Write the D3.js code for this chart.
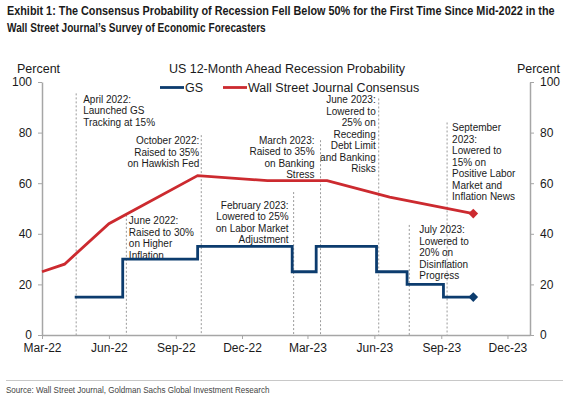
<!DOCTYPE html>
<html>
<head>
<meta charset="utf-8">
<script src="https://cdn.jsdelivr.net/npm/d3@7"></script>
<style>
  body { margin: 0; background: #fff; }
  svg { display: block; font-family: "Liberation Sans", Arial, sans-serif; }
</style>
</head>
<body>
<svg id="chart" width="563" height="397"></svg>
<script>
const parse = d3.timeParse('%Y-%m-%d');

// GS step path (date the probability was set, value in %)
const gsDates = ['2022-04-15', '2022-06-20', '2022-10-01', '2023-02-08', '2023-03-13', '2023-06-04', '2023-07-16', '2023-09-04', '2023-10-15'];
const gsValues = [15, 30, 35, 25, 35, 25, 20, 15, 15];

// WSJ survey consensus
const wsjDates = ['2022-03-01', '2022-04-01', '2022-06-01', '2022-10-01', '2023-01-05', '2023-03-28', '2023-06-22', '2023-10-15'];
const wsjValues = [25, 28, 44, 63, 61, 61, 54.5, 48];

const xTicks = ['2022-03-01', '2022-06-01', '2022-09-01', '2022-12-01', '2023-03-01', '2023-06-01', '2023-09-01', '2023-12-01'];
const yTicks = [0, 20, 40, 60, 80, 100];

// annotations: dashed line date, top of line (in %), text lines
const noteDates = ['2022-04-17', '2022-06-25', '2022-10-06', '2023-02-10', '2023-03-19', '2023-06-07', '2023-07-19', '2023-09-09'];
const noteTops = [95.5, 47.5, 79, 56.5, 77, 93.5, 43.5, 84];
const noteText = [
  ['April 2022:', 'Launched GS', 'Tracking at 15%'],
  ['June 2022:', 'Raised to 30%', 'on Higher', 'Inflation'],
  ['October 2022:', 'Raised to 35%', 'on Hawkish Fed'],
  ['February 2023:', 'Lowered to 25%', 'on Labor Market', 'Adjustment'],
  ['March 2023:', 'Raised to 35%', 'on Banking', 'Stress'],
  ['June 2023:', 'Lowered to', '25% on', 'Receding', 'Debt Limit', 'and Banking', 'Risks'],
  ['July 2023:', 'Lowered to', '20% on', 'Disinflation', 'Progress'],
  ['September', '2023:', 'Lowered to', '15% on', 'Positive Labor', 'Market and', 'Inflation News']
];
// where each text block sits relative to its dashed line (px)
const noteDx = [7, 2.5, -2, -5, -6, -3, 10, 5];
const noteDy = [9.5, 9.5, 9, 16.5, 3.5, 5, 8.5, 9];

const gsColor = '#0c3c6e';
const wsjColor = '#cc2a2f';
const axisColor = '#a6a6a6';
const textColor = '#1a1a1a';

const svg = d3.select('#chart');

const x = d3.scaleTime()
  .domain([parse('2022-03-01'), parse('2024-01-01')])
  .range([42, 530]);
const y = d3.scaleLinear().domain([0, 100]).range([335, 82]);

// squeeze a text horizontally to a given width (no condensed face installed)
function squeeze(sel, left, base, width) {
  const w = sel.node().getComputedTextLength();
  sel.attr('transform', `translate(${left},${base}) scale(${width / w},1)`);
}

// title
const titleLines = [
  ['Exhibit 1: The Consensus Probability of Recession Fell Below 50% for the First Time Since Mid-2022 in the', 548],
  ['Wall Street Journal\u2019s Survey of Economic Forecasters', 259]
];
titleLines.forEach(([s, w], i) => {
  const t = svg.append('text')
    .attr('font-size', 13.5).attr('font-weight', 'bold').attr('fill', textColor)
    .text(s);
  squeeze(t, 7, 15 + i * 17, w);
});

// dashed annotation lines
const notes = noteDates.map((d, i) => ({
  date: parse(d), top: noteTops[i], lines: noteText[i], dx: noteDx[i], dy: noteDy[i]
}));

svg.append('g').selectAll('line')
  .data(notes)
  .join('line')
  .attr('x1', d => x(d.date)).attr('x2', d => x(d.date))
  .attr('y1', d => y(d.top)).attr('y2', y(0))
  .attr('stroke', '#9a9a9a').attr('stroke-width', 1).attr('stroke-dasharray', '2,2');

// axes
const axisG = svg.append('g').attr('color', axisColor);

const xAxis = axisG.append('g')
  .attr('transform', `translate(0,${y(0)})`)
  .call(d3.axisBottom(x).tickValues(xTicks.map(parse)).tickFormat(d3.timeFormat('%b-%y')).tickSize(4).tickSizeOuter(0));

const yLeft = axisG.append('g')
  .attr('transform', `translate(${x.range()[0]},0)`)
  .call(d3.axisLeft(y).tickValues(yTicks).tickSize(4).tickSizeOuter(0));

const yRight = axisG.append('g')
  .attr('transform', `translate(${x.range()[1]},0)`)
  .call(d3.axisRight(y).tickValues(yTicks).tickSize(4).tickSizeOuter(0));

axisG.selectAll('g').attr('font-size', 12).attr('font-family', '"Liberation Sans", Arial, sans-serif');
axisG.selectAll('.domain').attr('stroke-width', 1.5);
axisG.selectAll('text').attr('fill', textColor);
xAxis.selectAll('text').attr('y', 6).attr('dy', '0.95em');
yLeft.selectAll('text').attr('x', -10);
yRight.selectAll('text').attr('x', 10);

// annotation text
notes.forEach(n => {
  const left = n.dx < 0;
  const t = svg.append('text')
    .attr('font-size', 10).attr('fill', textColor)
    .attr('text-anchor', left ? 'end' : 'start');
  n.lines.forEach((s, i) => {
    t.append('tspan')
      .attr('x', x(n.date) + n.dx)
      .attr('y', y(n.top) + n.dy + i * 11.5)
      .text(s);
  });
});

// series
const gsData = gsDates.map((d, i) => ({ date: parse(d), value: gsValues[i] }));
const wsjData = wsjDates.map((d, i) => ({ date: parse(d), value: wsjValues[i] }));

svg.append('path')
  .datum(wsjData)
  .attr('fill', 'none').attr('stroke', wsjColor).attr('stroke-width', 2.8)
  .attr('d', d3.line().x(d => x(d.date)).y(d => y(d.value)));

svg.append('path')
  .datum(gsData)
  .attr('fill', 'none').attr('stroke', gsColor).attr('stroke-width', 2.8)
  .attr('d', d3.line().curve(d3.curveStepAfter).x(d => x(d.date)).y(d => y(d.value)));

const diamond = d3.symbol().type(d3.symbolDiamond2).size(60);
[[wsjData, wsjColor], [gsData, gsColor]].forEach(([data, color]) => {
  const last = data[data.length - 1];
  svg.append('path')
    .attr('d', diamond())
    .attr('transform', `translate(${x(last.date)},${y(last.value)})`)
    .attr('fill', color);
});

// chart header
svg.append('text')
  .attr('x', 287).attr('y', 72.5)
  .attr('text-anchor', 'middle').attr('font-size', 12.5).attr('fill', textColor)
  .text('US 12-Month Ahead Recession Probability');
svg.append('text').attr('x', 17).attr('y', 72.5).attr('font-size', 12.5).attr('fill', textColor).text('Percent');
svg.append('text').attr('x', 560).attr('y', 72.5).attr('text-anchor', 'end').attr('font-size', 12.5).attr('fill', textColor).text('Percent');

// legend
const legend = [['GS', gsColor, 160], ['Wall Street Journal Consensus', wsjColor, 223]];
legend.forEach(([name, color, lx]) => {
  svg.append('line')
    .attr('x1', lx).attr('x2', lx + 24).attr('y1', 87.5).attr('y2', 87.5)
    .attr('stroke', color).attr('stroke-width', 2.8);
  svg.append('text')
    .attr('x', lx + 25).attr('y', 91.5).attr('font-size', 12.5).attr('fill', textColor)
    .text(name);
});

// footer
svg.append('line')
  .attr('x1', 6).attr('x2', 563).attr('y1', 380.5).attr('y2', 380.5)
  .attr('stroke', '#c8c8c8').attr('stroke-width', 1);
const src = svg.append('text')
  .attr('font-size', 9).attr('fill', '#444')
  .text('Source: Wall Street Journal, Goldman Sachs Global Investment Research');
squeeze(src, 6, 393, 264);
</script>
</body>
</html>
